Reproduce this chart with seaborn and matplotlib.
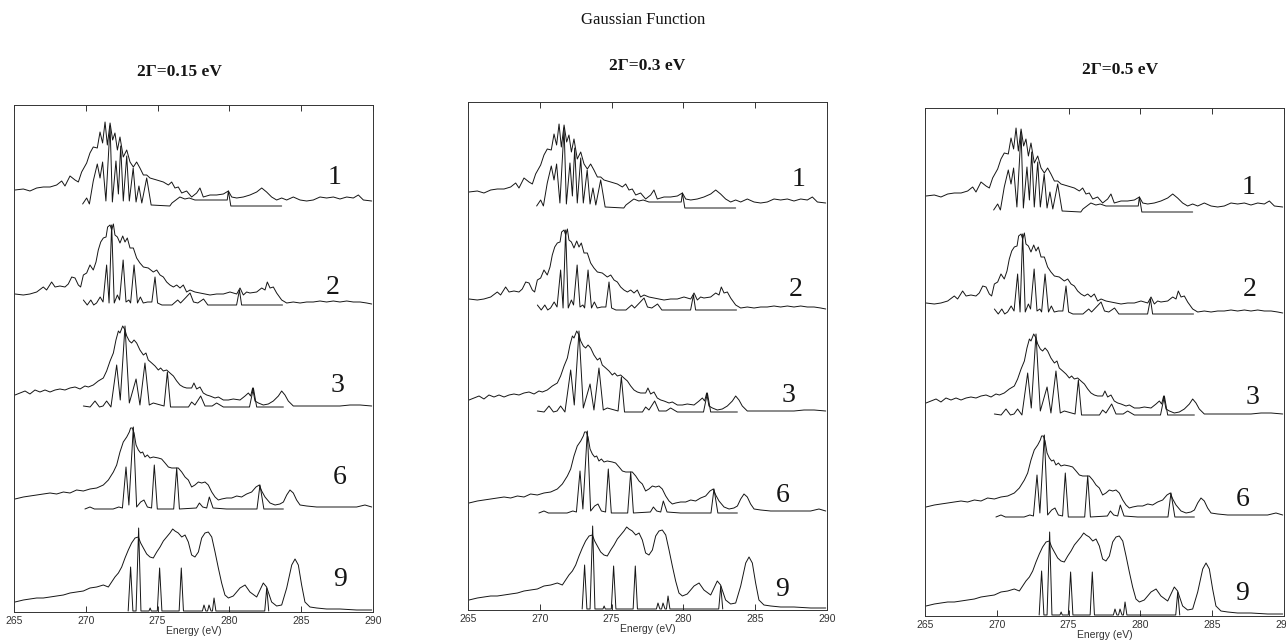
import matplotlib
matplotlib.use("Agg")
import matplotlib.pyplot as plt
import seaborn as sns
import pandas as pd

# trace labels (shown at the right of every panel)
traces = ["1", "2", "3", "6", "9"]
panel_titles = ["2\u0393=0.15 eV", "2\u0393=0.3 eV", "2\u0393=0.5 eV"]

# measured spectra (energy in eV, intensity in arbitrary units)
exp1_e = [265.07, 265.65, 266.11, 266.58, 267.04, 267.51, 267.97, 268.32, 268.55, 268.90,
          269.25, 269.48, 269.71, 270.06, 270.29, 270.52, 270.80, 270.99, 271.17, 271.34,
          271.50, 271.69, 271.87, 272.03, 272.20, 272.38, 272.61, 272.85, 273.08, 273.31,
          273.54, 273.77, 274.01, 274.24, 274.47, 274.94, 275.40, 275.75, 275.98, 276.21,
          276.44, 276.68, 277.02, 277.37, 277.72, 277.95, 278.18, 278.65, 279.11, 279.58,
          279.93, 280.16, 280.51, 280.97, 281.43, 281.90, 282.25, 282.59, 282.94, 283.29,
          283.64, 283.99, 284.45, 284.92, 285.38, 285.84, 286.31, 286.77, 287.24, 287.70,
          288.17, 288.63, 288.98, 289.33, 289.91]
exp1_i = [16, 17, 15, 18, 19, 19, 21, 25, 20, 30, 26, 24, 34, 43, 53, 59, 58, 74, 63, 84,
          61, 83, 66, 73, 56, 69, 49, 56, 44, 39, 44, 38, 31, 31, 28, 26, 24, 21, 24, 18,
          19, 13, 15, 9, 13, 18, 9, 11, 11, 12, 15, 9, 8, 9, 11, 14, 18, 14, 9, 6,
          8, 6, 9, 6, 5, 6, 9, 8, 9, 7, 9, 8, 11, 6, 5]

exp2_e = [265.07, 265.65, 266.11, 266.58, 267.04, 267.27, 267.62, 267.86, 268.20, 268.55,
          268.78, 269.02, 269.25, 269.48, 269.64, 269.83, 270.06, 270.29, 270.52, 270.71,
          270.87, 271.04, 271.22, 271.41, 271.52, 271.69, 271.80, 271.92, 272.03, 272.20,
          272.38, 272.57, 272.73, 272.89, 273.08, 273.31, 273.54, 273.77, 274.01, 274.35,
          274.70, 274.94, 275.17, 275.40, 275.63, 275.86, 276.10, 276.33, 276.56, 276.79,
          277.02, 277.26, 277.60, 277.95, 278.30, 278.65, 279.11, 279.58, 280.04, 280.51,
          280.74, 280.97, 281.20, 281.43, 281.90, 282.25, 282.48, 282.64, 282.83, 283.06,
          283.29, 283.64, 283.99, 284.45, 284.92, 285.38, 285.84, 286.31, 286.77, 287.24,
          287.70, 288.17, 288.63, 289.10, 289.56, 289.91]
exp2_i = [11, 10, 11, 13, 18, 15, 23, 18, 19, 18, 21, 28, 27, 20, 18, 30, 32, 40, 35, 43,
          55, 63, 67, 68, 78, 80, 75, 81, 70, 68, 62, 69, 63, 67, 57, 57, 47, 42, 38, 37,
          33, 35, 30, 28, 23, 20, 18, 20, 17, 20, 13, 15, 13, 12, 11, 10, 11, 11, 13, 11,
          17, 10, 13, 12, 13, 17, 15, 23, 17, 18, 12, 5, 2, 3, 2, 3, 3, 4, 3, 4,
          3, 4, 3, 3, 2, 1]

exp3_e = [265.07, 265.42, 265.77, 266.11, 266.46, 266.81, 267.16, 267.51, 267.86, 268.20,
          268.55, 268.90, 269.25, 269.60, 269.94, 270.18, 270.52, 270.87, 271.22, 271.45,
          271.69, 271.92, 272.10, 272.27, 272.38, 272.57, 272.73, 272.85, 273.03, 273.19,
          273.36, 273.54, 273.77, 274.01, 274.19, 274.35, 274.59, 274.82, 275.05, 275.21,
          275.40, 275.63, 275.86, 276.10, 276.33, 276.56, 276.79, 277.02, 277.37, 277.53,
          277.72, 277.95, 278.18, 278.42, 278.65, 279.00, 279.23, 279.58, 279.93, 280.27,
          280.74, 281.09, 281.32, 281.48, 281.62, 281.78, 282.02, 282.36, 282.71, 283.06,
          283.41, 283.64, 283.87, 284.10, 284.45, 284.92, 285.61, 286.31, 287.01, 287.70,
          288.40, 289.10, 289.91]
exp3_i = [12, 14, 16, 13, 17, 15, 17, 15, 17, 18, 17, 19, 20, 18, 21, 20, 22, 26, 29, 36,
          46, 54, 67, 76, 74, 81, 77, 71, 66, 64, 67, 64, 57, 52, 54, 47, 44, 41, 37, 39,
          36, 37, 34, 31, 26, 22, 20, 19, 19, 24, 18, 20, 14, 12, 11, 9, 10, 7, 7, 8,
          7, 11, 14, 11, 19, 6, 4, 2, 3, 6, 11, 16, 12, 6, 1, 1, 1, 1, 1, 1,
          2, 2, 1]

exp6_e = [265.07, 265.65, 266.11, 266.58, 267.04, 267.51, 267.97, 268.44, 268.90, 269.36,
          269.83, 270.29, 270.76, 271.22, 271.57, 271.92, 272.15, 272.38, 272.61, 272.85,
          273.03, 273.12, 273.24, 273.36, 273.50, 273.66, 273.82, 273.96, 274.12, 274.29,
          274.47, 274.70, 275.05, 275.28, 275.52, 275.75, 275.98, 276.21, 276.44, 276.68,
          276.91, 277.14, 277.37, 277.60, 277.84, 278.07, 278.30, 278.53, 278.77, 279.00,
          279.23, 279.46, 279.81, 280.16, 280.51, 280.85, 281.20, 281.55, 281.85, 282.08,
          282.25, 282.48, 282.83, 283.18, 283.52, 283.76, 283.99, 284.22, 284.45, 284.68,
          284.92, 285.38, 286.08, 287.01, 287.93, 288.86, 289.44, 289.91]
exp6_i = [10, 12, 13, 14, 15, 16, 15, 17, 16, 19, 18, 20, 21, 24, 29, 37, 44, 57, 67, 72,
          77, 81, 81, 76, 64, 59, 56, 57, 52, 54, 51, 52, 51, 50, 46, 42, 41, 41, 41, 37,
          32, 29, 22, 24, 27, 26, 27, 24, 17, 12, 9, 10, 11, 11, 13, 12, 15, 17, 22, 24,
          18, 12, 6, 4, 5, 7, 14, 19, 16, 9, 4, 3, 2, 2, 2, 2, 4, 2]

exp9_e = [265.07, 265.65, 266.11, 266.58, 267.04, 267.51, 267.97, 268.44, 268.90, 269.36,
          269.83, 270.29, 270.76, 271.22, 271.57, 271.80, 272.03, 272.27, 272.50, 272.73,
          272.96, 273.19, 273.43, 273.66, 273.82, 274.01, 274.24, 274.47, 274.70, 274.94,
          275.17, 275.40, 275.63, 275.86, 276.05, 276.21, 276.44, 276.68, 276.91, 277.14,
          277.37, 277.60, 277.84, 278.07, 278.30, 278.53, 278.77, 279.00, 279.23, 279.46,
          279.69, 279.93, 280.27, 280.74, 281.09, 281.43, 281.90, 282.36, 282.59, 282.94,
          283.29, 283.64, 283.99, 284.34, 284.57, 284.80, 285.03, 285.26, 285.61, 286.08,
          286.77, 287.70, 288.86, 289.91]
exp9_i = [9, 11, 12, 13, 13, 14, 15, 16, 18, 19, 20, 23, 24, 26, 24, 29, 34, 38, 44, 53,
          61, 68, 73, 74, 68, 63, 57, 54, 53, 59, 64, 70, 74, 78, 82, 80, 78, 74, 76, 69,
          56, 54, 59, 73, 78, 79, 74, 59, 43, 28, 16, 13, 15, 23, 26, 19, 14, 28, 24, 9,
          5, 6, 23, 46, 52, 46, 26, 9, 4, 3, 2, 2, 1, 1]

# calculated spectra
th1_e = [269.78, 270.06, 270.25, 270.52, 270.80, 270.99, 271.17, 271.40, 271.69, 271.85,
         272.10, 272.27, 272.43, 272.61, 272.85, 273.03, 273.30, 273.50, 273.70, 273.90,
         274.24, 274.55, 275.85, 276.00, 276.55, 276.90, 277.20, 277.60, 278.00, 279.00,
         279.85, 279.93, 280.10, 283.64]
th1_i = [2, 8, 2, 25, 42, 28, 44, 5, 80, 4, 45, 12, 60, 5, 50, 5, 38, 4, 20, 3,
         28, 1, 0, 3, 9, 7, 8, 6, 6, 6, 6, 15, 0, 0]

th2_e = [269.83, 270.10, 270.35, 270.55, 270.75, 271.00, 271.20, 271.45, 271.62, 271.80,
         271.98, 272.20, 272.35, 272.60, 272.80, 273.00, 273.12, 273.36, 273.60, 273.80,
         274.00, 274.30, 274.60, 274.82, 275.00, 275.30, 276.00, 276.40, 276.60, 276.80,
         277.00, 277.26, 277.50, 277.80, 278.20, 278.50, 280.50, 280.70, 280.85, 283.70]
th2_i = [5, 0, 5, 0, 2, 8, 3, 40, 2, 80, 2, 10, 5, 45, 3, 5, 2, 40, 2, 8,
         2, 3, 3, 28, 2, 0, 0, 5, 2, 5, 8, 12, 3, 2, 6, 0, 0, 15, 0, 0]

th3_e = [269.83, 270.30, 270.64, 270.95, 271.20, 271.45, 271.75, 272.15, 272.40, 272.73,
         273.03, 273.50, 273.77, 274.12, 274.42, 274.70, 275.45, 275.68, 275.90, 277.15,
         277.37, 277.60, 278.00, 278.30, 278.80, 279.11, 279.58, 281.40, 281.67, 281.90,
         283.76]
th3_i = [1, 0, 6, 0, 1, 6, 0, 42, 7, 81, 4, 28, 2, 44, 2, 4, 1, 35, 0, 0,
         5, 2, 11, 1, 1, 4, 0, 0, 19, 0, 0]

th6_e = [269.94, 270.29, 270.60, 271.90, 272.30, 272.55, 272.80, 273.00, 273.31, 273.54,
         273.82, 274.05, 274.29, 274.58, 274.77, 274.98, 276.12, 276.33, 276.52, 277.70,
         277.91, 278.14, 278.42, 278.60, 278.86, 279.80, 281.92, 282.13, 282.40, 283.76]
th6_i = [0, 2, 0, 0, 2, 1, 42, 4, 82, 2, 7, 9, 2, 1, 44, 0, 0, 41, 0, 1,
         6, 2, 1, 12, 1, 0, 0, 24, 0, 0]

th9_e = [272.95, 273.12, 273.28, 273.50, 273.68, 273.84, 274.40, 274.48, 274.56, 274.98,
         275.14, 275.30, 276.50, 276.65, 276.80, 278.12, 278.23, 278.36, 278.48, 278.58,
         278.72, 278.82, 278.93, 279.06, 282.46, 282.60, 282.74]
th9_i = [0, 44, 0, 0, 83, 0, 0, 3, 0, 0, 43, 0, 0, 43, 0, 0, 6, 0, 0, 6,
         0, 0, 13, 0, 0, 23, 0]

exp_e = [exp1_e, exp2_e, exp3_e, exp6_e, exp9_e]
exp_i = [exp1_i, exp2_i, exp3_i, exp6_i, exp9_i]
th_e = [th1_e, th2_e, th3_e, th6_e, th9_e]
th_i = [th1_i, th2_i, th3_i, th6_i, th9_i]

frames = []
for t, ee, ei, te, ti in zip(traces, exp_e, exp_i, th_e, th_i):
    frames.append(pd.DataFrame({"energy": ee, "intensity": ei, "trace": t, "kind": "exp"}))
    frames.append(pd.DataFrame({"energy": te, "intensity": ti, "trace": t, "kind": "theory"}))
df = pd.concat(frames, ignore_index=True)
df["curve"] = df["trace"] + "_" + df["kind"]

sns.set_style("ticks")
plt.rcParams["font.family"] = ["Liberation Serif", "DejaVu Serif"]

W, H = 1286, 640
fig = plt.figure(figsize=(W / 100, H / 100), dpi=100)

# panel frames in pixels (left, top, right, bottom) and vertical offsets of the traces
boxes = [(14, 105, 373, 612), (468, 102, 827, 610), (925, 108, 1284, 616)]
offsets = [[406, 307, 205, 103, 1], [402, 300, 198, 97, 1], [404, 302, 201, 99, 1]]
label_xy = [
    [(287.35, 434), (287.2, 325), (287.5, 227), (287.7, 134), (287.7, 32)],
    [(288.0, 430), (287.8, 320), (287.3, 215), (286.9, 115), (286.9, 20)],
    [(287.5, 428), (287.6, 326), (287.8, 219), (287.1, 116), (287.1, 23)],
]
title_x = [179, 647, 1120]
title_y = [72, 66, 70]

for p, (x0, y0, x1, y1) in enumerate(boxes):
    ax = fig.add_axes([x0 / W, 1 - y1 / H, (x1 - x0) / W, (y1 - y0) / H])
    d = df.copy()
    d["y"] = d["intensity"] + d["trace"].map(dict(zip(traces, offsets[p])))
    sns.lineplot(data=d, x="energy", y="y", units="curve", estimator=None, sort=False,
                 color="#151515", lw=0.7, legend=False, ax=ax)
    ax.set_xlim(265, 290)
    ax.set_ylim(0, y1 - y0)
    ax.set_xticks(range(265, 291, 5))
    ax.set_yticks([])
    ax.tick_params(axis="x", direction="in", top=True, bottom=True, length=4,
                   width=0.7, color="#333333", labelsize=7.5, labelcolor="#333333", pad=3)
    for lab in ax.get_xticklabels():
        lab.set_family(["Liberation Sans", "DejaVu Sans"])
    ax.set_xlabel("Energy (eV)", fontsize=7.5, color="#333333",
                  family=["Liberation Sans", "DejaVu Sans"], labelpad=0)
    ax.set_ylabel("")
    for s in ax.spines.values():
        s.set_linewidth(0.7)
        s.set_color("#333333")
    for t, (lx, ly) in zip(traces, label_xy[p]):
        ax.text(lx, ly, t, fontsize=20, ha="center", va="center", color="#151515")
    fig.text(title_x[p] / W, 1 - title_y[p] / H, panel_titles[p], ha="center", va="center",
             fontsize=12.5, fontweight="bold", color="#151515")

fig.text(643 / W, 1 - 20 / H, "Gaussian Function", ha="center", va="center",
         fontsize=12, color="#151515")

fig.savefig("out.png", dpi=100)
